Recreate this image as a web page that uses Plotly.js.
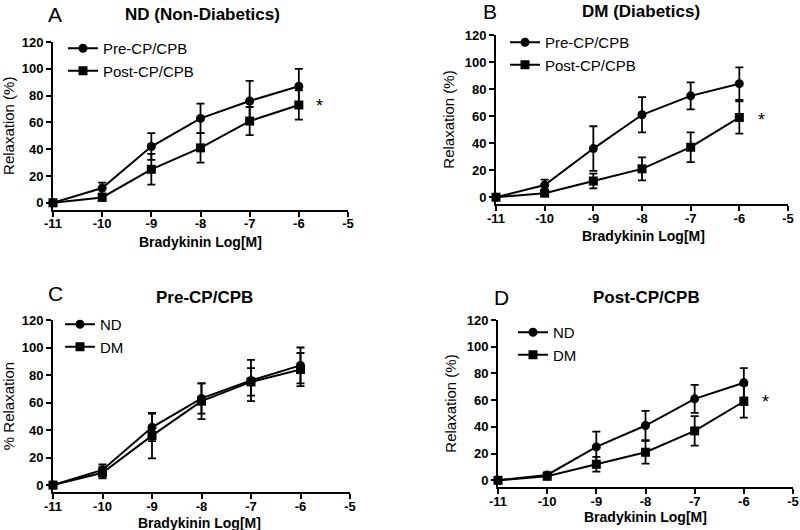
<!DOCTYPE html>
<html>
<head>
<meta charset="utf-8">
<script src="https://cdn.plot.ly/plotly-3.0.1.min.js"></script>
<style>html,body{margin:0;padding:0;background:#fff;}#chart{width:800px;height:530px;}</style>
</head>
<body>
<div id="chart"></div>
<script>
// ---- data ----
const logDose = [-11, -10, -9, -8, -7, -6];
const ndPre = [0, 11, 42, 63, 76, 87];
const ndPreErr = [0, 4, 10, 11, 15, 13];
const ndPost = [0, 4, 25, 41, 61, 73];
const ndPostErr = [0, 2, 11.5, 11, 10.5, 11];
const dmPre = [0, 9, 36, 61, 75, 84];
const dmPreErr = [0, 4, 16.5, 13, 10, 12];
const dmPost = [0, 3, 12, 21, 37, 59];
const dmPostErr = [0, 1.5, 5.5, 8.5, 11, 12];
const xTickVals = [-11, -10, -9, -8, -7, -6, -5];
const xTickLabels = ['-11', '-10', '-9', '-8', '-7', '-6', '-5'];
const yTickVals = [0, 20, 40, 60, 80, 100, 120];
const yTickLabels = ['0', '20', '40', '60', '80', '100', '120'];
const panelLetters = ['A', 'B', 'C', 'D'];
const panelTitles = ['ND (Non-Diabetics)', 'DM (Diabetics)', 'Pre-CP/CPB', 'Post-CP/CPB'];
const yTitles = ['Relaxation (%)', 'Relaxation (%)', '% Relaxation', 'Relaxation (%)'];
const xTitle = 'Bradykinin Log[M]';
const starX = [-5.57, -5.55, null, -5.55];
const starY = [72, 57, null, 59];

const FONT = 'Liberation Sans, Arial, sans-serif';
const W = 800, H = 530;

function trace(y, err, name, symbol, n, legendName) {
  return {
    x: logDose, y: y, name: name, type: 'scatter', mode: 'lines+markers',
    xaxis: n === 1 ? 'x' : 'x' + n, yaxis: n === 1 ? 'y' : 'y' + n,
    legend: legendName,
    line: {color: '#000', width: 2},
    marker: {symbol: symbol, size: 9, color: '#000'},
    error_y: {type: 'data', array: err, visible: true, color: '#000', thickness: 1.8, width: 4},
    cliponaxis: false
  };
}

const data = [
  trace(ndPre, ndPreErr, 'Pre-CP/CPB', 'circle', 1, 'legend'),
  trace(ndPost, ndPostErr, 'Post-CP/CPB', 'square', 1, 'legend'),
  trace(dmPre, dmPreErr, 'Pre-CP/CPB', 'circle', 2, 'legend2'),
  trace(dmPost, dmPostErr, 'Post-CP/CPB', 'square', 2, 'legend2'),
  trace(ndPre, ndPreErr, 'ND', 'circle', 3, 'legend3'),
  trace(dmPre, dmPreErr, 'DM', 'square', 3, 'legend3'),
  trace(ndPost, ndPostErr, 'ND', 'circle', 4, 'legend4'),
  trace(dmPost, dmPostErr, 'DM', 'square', 4, 'legend4')
];

// pixel boxes of each plot area [left, right, top, bottom]
const boxes = [
  [53, 348, 42, 209.5],
  [496, 788, 35, 204],
  [53, 350, 320, 492],
  [498, 793, 320, 487]
];

const bold = s => '<b>' + s + '</b>';

function xa(i) {
  const b = boxes[i];
  return {
    domain: [b[0] / W, b[1] / W], range: [-11, -5], anchor: i === 0 ? 'y' : 'y' + (i + 1),
    tickmode: 'array', tickvals: xTickVals, ticktext: xTickLabels.map(bold),
    showline: true, linecolor: '#000', linewidth: 2,
    ticks: 'outside', ticklen: 5, tickwidth: 2, tickcolor: '#000',
    ticklabelstandoff: -4,
    showgrid: false, zeroline: false,
    tickfont: {family: FONT, size: 13, color: '#000'},
    fixedrange: true
  };
}
function ya(i) {
  const b = boxes[i];
  return {
    domain: [1 - b[3] / H, 1 - b[2] / H], range: [-5, 120], anchor: i === 0 ? 'x' : 'x' + (i + 1),
    tickmode: 'array', tickvals: yTickVals, ticktext: yTickLabels.map(bold),
    showline: true, linecolor: '#000', linewidth: 2,
    ticks: 'outside', ticklen: 5, tickwidth: 2, tickcolor: '#000',
    showgrid: false, zeroline: false,
    tickfont: {family: FONT, size: 13, color: '#000'},
    title: {text: yTitles[i], font: {family: FONT, size: 15, color: '#000'}, standoff: 6},
    fixedrange: true
  };
}

const legendPos = [[63, 32], [505, 26], [60, 308], [513, 316]];
function lg(i) {
  return {
    x: legendPos[i][0] / W, y: 1 - legendPos[i][1] / H, xanchor: 'left', yanchor: 'top',
    bgcolor: 'rgba(0,0,0,0)', borderwidth: 0, itemwidth: 30,
    font: {family: FONT, size: 15, color: '#000'}, tracegroupgap: 0
  };
}

const letterPos = [[55, 15], [490, 12], [55, 293], [502, 297]];
const titlePos = [[202, 15], [641, 12], [204, 297], [646, 297]];
const xTitlePos = [[201, 242], [643, 236], [199, 523], [645, 517]];
const annotations = [];
for (let i = 0; i < 4; i++) {
  annotations.push({
    xref: 'paper', yref: 'paper', x: letterPos[i][0] / W, y: 1 - letterPos[i][1] / H,
    xanchor: 'center', yanchor: 'middle', showarrow: false, text: panelLetters[i],
    font: {family: FONT, size: 21, color: '#000'}
  });
  annotations.push({
    xref: 'paper', yref: 'paper', x: titlePos[i][0] / W, y: 1 - titlePos[i][1] / H,
    xanchor: 'center', yanchor: 'middle', showarrow: false, text: bold(panelTitles[i]),
    font: {family: FONT, size: 17, color: '#000'}
  });
  annotations.push({
    xref: 'paper', yref: 'paper', x: xTitlePos[i][0] / W, y: 1 - xTitlePos[i][1] / H,
    xanchor: 'center', yanchor: 'middle', showarrow: false, text: bold(xTitle),
    font: {family: FONT, size: 14, color: '#000'}
  });
  if (starX[i] !== null) {
    annotations.push({
      xref: i === 0 ? 'x' : 'x' + (i + 1), yref: i === 0 ? 'y' : 'y' + (i + 1),
      x: starX[i], y: starY[i], showarrow: false, text: '*',
      font: {family: FONT, size: 18, color: '#000'}
    });
  }
}

const layout = {
  width: W, height: H,
  margin: {l: 0, r: 0, t: 0, b: 0},
  paper_bgcolor: '#fff', plot_bgcolor: '#fff',
  showlegend: true,
  xaxis: xa(0), yaxis: ya(0),
  xaxis2: xa(1), yaxis2: ya(1),
  xaxis3: xa(2), yaxis3: ya(2),
  xaxis4: xa(3), yaxis4: ya(3),
  legend: lg(0), legend2: lg(1), legend3: lg(2), legend4: lg(3),
  annotations: annotations,
  font: {family: FONT, color: '#000'}
};

Plotly.newPlot('chart', data, layout, {displayModeBar: false, staticPlot: true});
</script>
</body>
</html>
